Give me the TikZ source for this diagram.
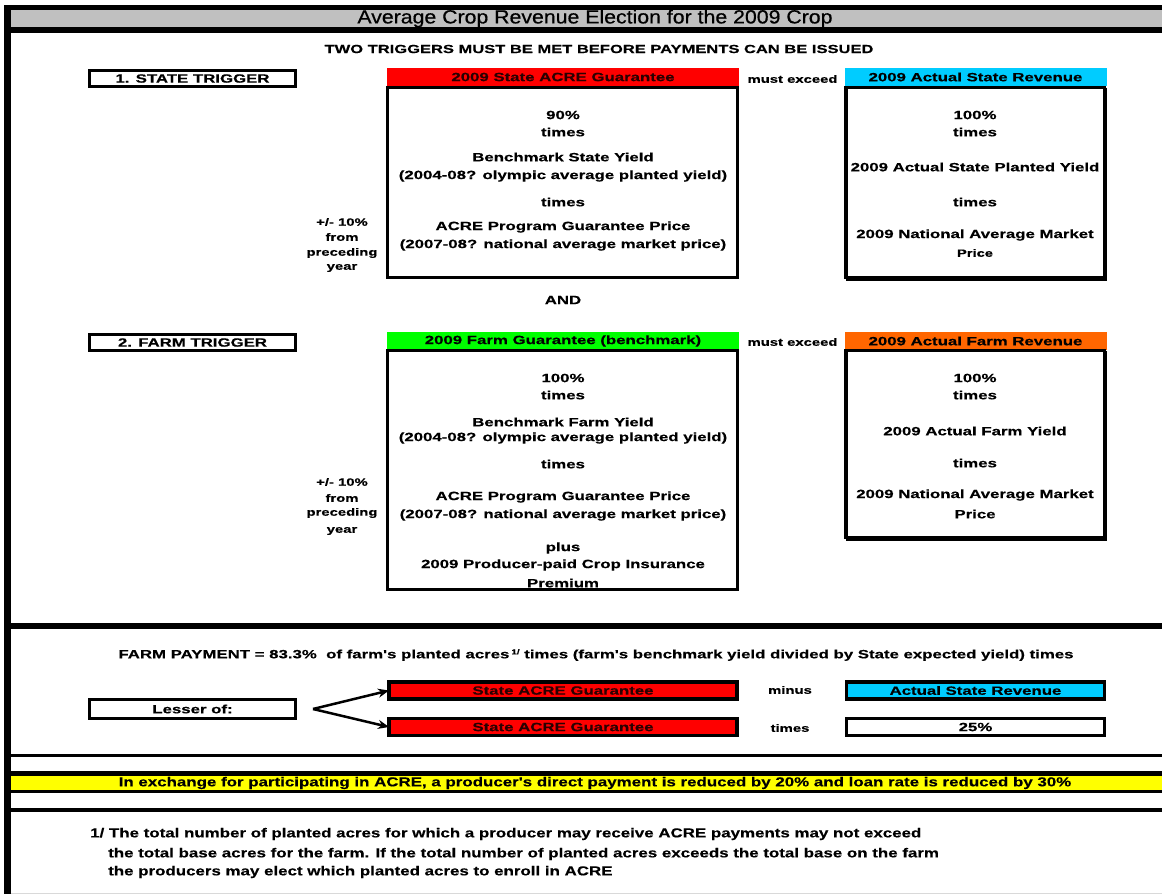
\documentclass[tikz,border=0pt]{standalone}
\usepackage{fontspec}
\setmainfont{Liberation Sans}
\newfontfamily\bodyfont[FakeStretch=1.4,FakeBold=0.4]{Liberation Sans}
\newfontfamily\titlefont[FakeStretch=1.12,FakeBold=0.6]{Liberation Sans}
\newfontfamily\narrowfont[FakeStretch=1.3,FakeBold=0.3]{Liberation Sans}
\usetikzlibrary{arrows.meta}
\definecolor{acred}{HTML}{FF0000}
\definecolor{accyan}{HTML}{00CCFF}
\definecolor{acgreen}{HTML}{00FF00}
\definecolor{acorange}{HTML}{FF6600}
\definecolor{acyellow}{HTML}{FFFF00}
\definecolor{acgray}{HTML}{C0C0C0}
\definecolor{darktxt}{HTML}{2A0000}
\tikzset{
  txt/.style={inner sep=0pt, outer sep=0pt, align=center, font=\bodyfont\bfseries\fontsize{12}{14}\selectfont},
  smalltxt/.style={inner sep=0pt, outer sep=0pt, align=center, font=\bodyfont\bfseries\fontsize{10.6}{12}\selectfont},
  header/.style={inner sep=0pt, outer sep=0pt, minimum width=352pt, minimum height=18pt, font=\bodyfont\bfseries\fontsize{12}{14}\selectfont},
  bigbox/.style={draw=black, line width=3.5pt, inner sep=0pt, outer sep=0pt},
  labelbox/.style={draw=black, line width=3.5pt, inner sep=0pt, outer sep=0pt, minimum width=206pt, font=\bodyfont\bfseries\fontsize{12}{14}\selectfont},
  paybox/.style={draw=black, line width=3.5pt, inner sep=0pt, outer sep=0pt, minimum height=17pt, font=\bodyfont\bfseries\fontsize{12}{14}\selectfont},
  frameline/.style={draw=black, line cap=butt},
  shade/.style={draw=black, line width=2pt, line cap=butt},
  arr/.style={draw=black, line width=2.5pt, -{Stealth[length=11pt,width=9pt]}}
}
\begin{document}
\begin{tikzpicture}[x=1pt,y=-1pt]
\useasboundingbox (0,0) rectangle (1162,894);
\fill[white] (0,0) rectangle (1162,894);
% frame
\fill[acgray] (11,10) rectangle (1162,27);
\draw[frameline, line width=5pt] (4,7.5) -- (1162,7.5);
\draw[frameline, line width=6pt] (4,30) -- (1162,30);
\draw[frameline, line width=6pt] (4,626) -- (1162,626);
\draw[frameline, line width=3pt] (4,755.5) -- (1162,755.5);
\fill[acyellow] (11,776) rectangle (1162,790);
\draw[frameline, line width=5pt] (4,773.5) -- (1162,773.5);
\draw[frameline, line width=3pt] (4,791.5) -- (1162,791.5);
\draw[frameline, line width=4pt] (4,810) -- (1162,810);
\draw[draw=black!15, line width=1pt] (11,893.5) -- (1162,893.5);
\draw[frameline, line width=7pt] (7.5,5) -- (7.5,894);

% title
\node[inner sep=0pt, font=\titlefont\fontsize{19}{21}\selectfont] (title) at (595,18.5) {Average Crop Revenue Election for the 2009 Crop};
\node[txt, font=\bodyfont\bfseries\fontsize{11.8}{14}\selectfont] (two) at (599,49) {TWO TRIGGERS MUST BE MET BEFORE PAYMENTS CAN BE ISSUED};

% state trigger
\node[labelbox, minimum height=16pt] (st) at (192.5,78.5) {1. STATE TRIGGER};
\node[header, fill=acred, text=darktxt] (sgh) at (563,77) {2009 State ACRE Guarantee};
\node[smalltxt] (me1) at (792.5,79) {must exceed};
\node[header, fill=accyan, minimum width=262pt] (sah) at (975.5,77) {2009 Actual State Revenue};
\node[bigbox, minimum width=350pt, minimum height=190pt] (sbox) at (562.5,182.5) {};
\node[bigbox, minimum width=258.5pt, minimum height=190pt] (abox) at (975,182.5) {};
\draw[shade] ([xshift=2pt]abox.north east) -- ([xshift=2pt,yshift=-2pt]abox.south east) -- ([yshift=-2pt]abox.south west);

\node[txt] (s1) at (563,115) {90\%};
\node[txt] (s2) at (563,132) {times};
\node[txt] (s3) at (563,157) {Benchmark State Yield};
\node[txt] (s4) at (563,176) {(2004-08? olympic average planted yield)};
\node[txt] (s5) at (563,202) {times};
\node[txt] (s6) at (563,227) {ACRE Program Guarantee Price};
\node[txt] (s7) at (563,245) {(2007-08? national average market price)};

\node[smalltxt] (sp1) at (342,222) {+/- 10\%};
\node[smalltxt] (sp2) at (342,237) {from};
\node[smalltxt] (sp3) at (342,253) {preceding};
\node[smalltxt] (sp4) at (342,268) {year};

\node[txt] (a1) at (975,115) {100\%};
\node[txt] (a2) at (975,132) {times};
\node[txt] (a3) at (975,167) {2009 Actual State Planted Yield};
\node[txt] (a4) at (975,202) {times};
\node[txt] (a5) at (975,235) {2009 National Average Market};
\node[txt, font=\bodyfont\bfseries\fontsize{10.5}{12}\selectfont] (a6) at (975,253) {Price};

\node[txt] (and) at (563,300) {AND};

% farm trigger
\node[labelbox, minimum height=16pt] (ft) at (192.5,342.5) {2. FARM TRIGGER};
\node[header, fill=acgreen] (fgh) at (563,341) {2009 Farm Guarantee (benchmark)};
\node[smalltxt] (me2) at (792.5,342) {must exceed};
\node[header, fill=acorange, minimum width=262pt] (fah) at (975.5,341) {2009 Actual Farm Revenue};
\node[bigbox, minimum width=350pt, minimum height=239pt] (fbox) at (562.5,470) {};
\node[bigbox, minimum width=258.5pt, minimum height=187pt] (fabox) at (975,444) {};
\draw[shade] ([xshift=2pt]fabox.north east) -- ([xshift=2pt,yshift=-2pt]fabox.south east) -- ([yshift=-2pt]fabox.south west);

\node[txt] (f1) at (563,378) {100\%};
\node[txt] (f2) at (563,395) {times};
\node[txt] (f3) at (563,422) {Benchmark Farm Yield};
\node[txt] (f4) at (563,438) {(2004-08? olympic average planted yield)};
\node[txt] (f5) at (563,464) {times};
\node[txt] (f6) at (563,497) {ACRE Program Guarantee Price};
\node[txt] (f7) at (563,515) {(2007-08? national average market price)};
\node[txt] (f8) at (563,548) {plus};
\node[txt] (f9) at (563,565) {2009 Producer-paid Crop Insurance};
\node[txt] (f10) at (563,583) {Premium};

\node[smalltxt] (fp1) at (342,482) {+/- 10\%};
\node[smalltxt] (fp2) at (342,498) {from};
\node[smalltxt] (fp3) at (342,513) {preceding};
\node[smalltxt] (fp4) at (342,531) {year};

\node[txt] (g1) at (975,378) {100\%};
\node[txt] (g2) at (975,395) {times};
\node[txt] (g3) at (975,431) {2009 Actual Farm Yield};
\node[txt] (g4) at (975,463) {times};
\node[txt] (g5) at (975,495) {2009 National Average Market};
\node[txt] (g6) at (975,514) {Price};

% payment
\node[txt] (fp) at (596,655) {FARM PAYMENT = 83.3\%\ \ of farm's planted acres\,\raisebox{4pt}{\fontsize{7}{8}\selectfont 1/} times (farm's benchmark yield divided by State expected yield) times};
\node[labelbox, minimum height=19pt] (less) at (192.5,709) {Lesser of:};
\node[paybox, fill=acred, text=darktxt, minimum width=348pt] (r1) at (563,690.5) {State ACRE Guarantee};
\node[paybox, fill=accyan, minimum width=258pt] (c1) at (975.5,690.5) {Actual State Revenue};
\node[paybox, fill=acred, text=darktxt, minimum width=348pt] (r2) at (563,727) {State ACRE Guarantee};
\node[paybox, fill=white, minimum width=258pt] (w1) at (975.5,727) {25\%};
\node[smalltxt] (minus) at (790,690) {minus};
\node[smalltxt] (times) at (790,728) {times};
\coordinate (fork) at (313,709);
\draw[arr] (fork) -- (r1.west);
\draw[arr] (fork) -- (r2.west);

% yellow note
\node[inner sep=0pt, font=\narrowfont\bfseries\fontsize{13}{14}\selectfont] (note) at (595,783) {In exchange for participating in ACRE, a producer's direct payment is reduced by 20\% and loan rate is reduced by 30\%};

% footnote
\node[inner sep=0pt, anchor=west, font=\narrowfont\bfseries\fontsize{13}{14}\selectfont] (fn1) at (90,834) {1/ The total number of planted acres for which a producer may receive ACRE payments may not exceed};
\node[inner sep=0pt, anchor=west, font=\narrowfont\bfseries\fontsize{13}{14}\selectfont] (fn2) at (108,854) {the total base acres for the farm. If the total number of planted acres exceeds the total base on the farm};
\node[inner sep=0pt, anchor=west, font=\narrowfont\bfseries\fontsize{13}{14}\selectfont] (fn3) at (108,872) {the producers may elect which planted acres to enroll in ACRE};
\end{tikzpicture}
\end{document}
